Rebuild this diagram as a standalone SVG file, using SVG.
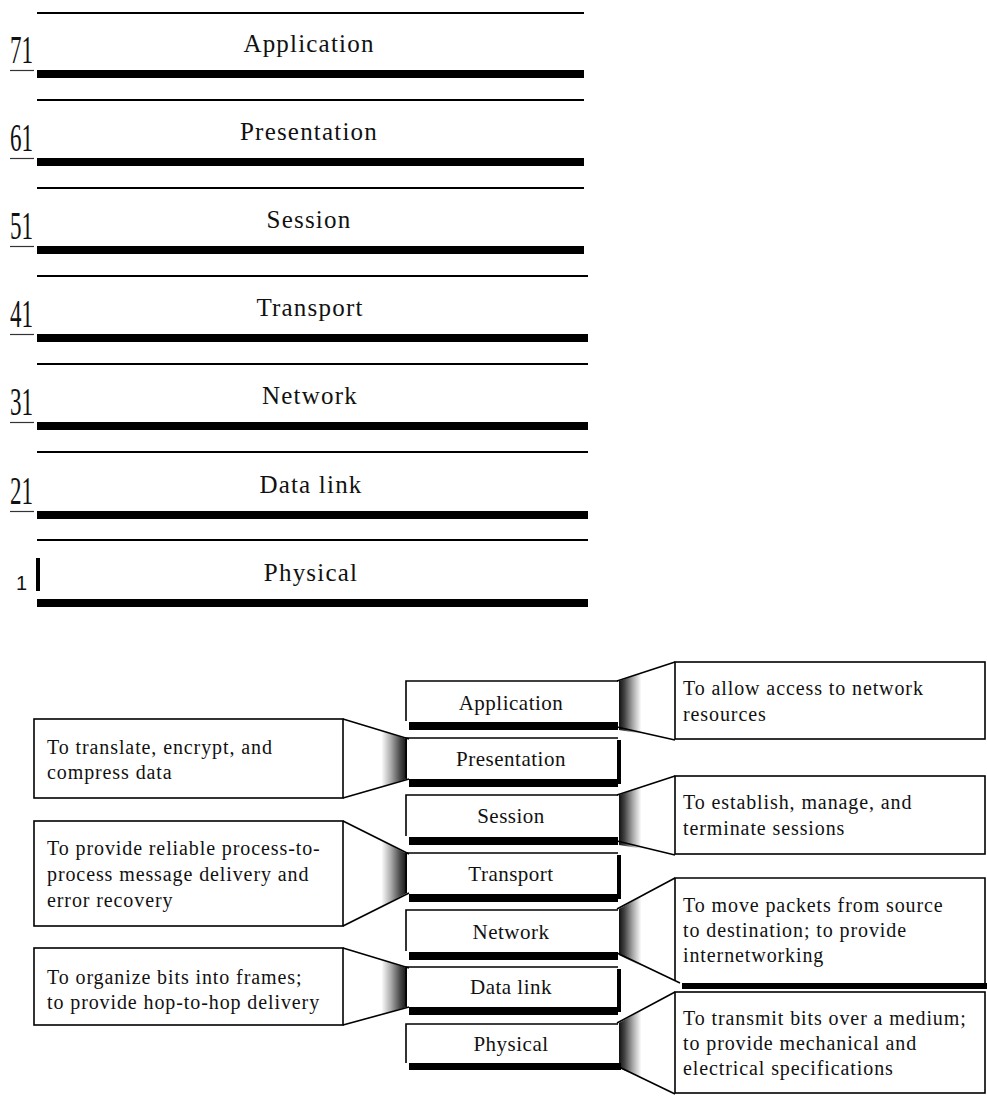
<svg xmlns="http://www.w3.org/2000/svg" width="987" height="1099" viewBox="0 0 987 1099">
<style>
.thin{stroke:#000;stroke-width:1.6;fill:none}
.hair{stroke:#333;stroke-width:1.2;fill:none}
.bar{fill:#000}
.lbl{font-family:"Liberation Serif","Times New Roman",serif;font-size:25px;letter-spacing:1.2px;text-anchor:middle;fill:#111}
.num{font-family:"Liberation Serif","Times New Roman",serif;font-size:40px;fill:#111}
.lay{font-family:"Liberation Serif","Times New Roman",serif;font-size:21px;letter-spacing:0.5px;text-anchor:middle;fill:#111}
.desc{font-family:"Liberation Serif","Times New Roman",serif;font-size:20px;letter-spacing:0.9px;fill:#111}
.box{fill:#fff;stroke:#000;stroke-width:1.6}
</style>
<defs>
<linearGradient id="gR" x1="0" y1="0" x2="1" y2="0">
<stop offset="0" stop-color="#111"/>
<stop offset="0.1" stop-color="#444"/>
<stop offset="0.25" stop-color="#aaa"/>
<stop offset="0.4" stop-color="#fff"/>
<stop offset="1" stop-color="#fff"/>
</linearGradient>
<linearGradient id="gL" x1="1" y1="0" x2="0" y2="0">
<stop offset="0" stop-color="#111"/>
<stop offset="0.1" stop-color="#444"/>
<stop offset="0.25" stop-color="#aaa"/>
<stop offset="0.4" stop-color="#fff"/>
<stop offset="1" stop-color="#fff"/>
</linearGradient>
</defs>
<rect x="0" y="0" width="987" height="1099" fill="#fff"/>

<!-- Top stack -->
<g id="top-application">
<rect class="bar" x="37" y="12" width="547" height="2"/>
<text class="lbl" x="309" y="52">Application</text>
<rect class="bar" x="37" y="70" width="547" height="8"/>
<text class="num" x="10" y="63" textLength="23" lengthAdjust="spacingAndGlyphs">71</text>
<line class="hair" x1="10" y1="70.5" x2="34" y2="70.5"/>
</g>
<g id="top-presentation">
<rect class="bar" x="37" y="99" width="547" height="2"/>
<text class="lbl" x="309" y="140">Presentation</text>
<rect class="bar" x="37" y="158" width="547" height="8"/>
<text class="num" x="10" y="151" textLength="23" lengthAdjust="spacingAndGlyphs">61</text>
<line class="hair" x1="10" y1="158.5" x2="34" y2="158.5"/>
</g>
<g id="top-session">
<rect class="bar" x="37" y="187" width="547" height="2"/>
<text class="lbl" x="309" y="228">Session</text>
<rect class="bar" x="37" y="246" width="547" height="8"/>
<text class="num" x="10" y="239" textLength="23" lengthAdjust="spacingAndGlyphs">51</text>
<line class="hair" x1="10" y1="246.5" x2="34" y2="246.5"/>
</g>
<g id="top-transport">
<rect class="bar" x="37" y="275" width="551" height="2"/>
<text class="lbl" x="310" y="316">Transport</text>
<rect class="bar" x="37" y="334" width="551" height="8"/>
<text class="num" x="10" y="327" textLength="23" lengthAdjust="spacingAndGlyphs">41</text>
<line class="hair" x1="10" y1="334.5" x2="34" y2="334.5"/>
</g>
<g id="top-network">
<rect class="bar" x="37" y="363" width="551" height="2"/>
<text class="lbl" x="310" y="404">Network</text>
<rect class="bar" x="37" y="422" width="551" height="8"/>
<text class="num" x="10" y="415" textLength="23" lengthAdjust="spacingAndGlyphs">31</text>
<line class="hair" x1="10" y1="422.5" x2="34" y2="422.5"/>
</g>
<g id="top-datalink">
<rect class="bar" x="37" y="451" width="551" height="2"/>
<text class="lbl" x="311" y="493">Data link</text>
<rect class="bar" x="37" y="511" width="551" height="8"/>
<text class="num" x="10" y="504" textLength="23" lengthAdjust="spacingAndGlyphs">21</text>
<line class="hair" x1="10" y1="511.5" x2="34" y2="511.5"/>
</g>
<g id="top-physical">
<rect class="bar" x="37" y="539" width="551" height="2"/>
<text class="lbl" x="311" y="581">Physical</text>
<rect class="bar" x="37" y="599" width="551" height="8"/>
<text x="16" y="590" font-family="Liberation Sans, Arial, sans-serif" font-size="20" fill="#111">1</text>
<rect class="bar" x="36" y="558" width="4" height="33"/>
</g>

<!-- Connectors (funnels) -->
<g id="connectors">
<polygon points="619,681 675,662 675,739 619,730" fill="url(#gR)"/>
<polyline class="thin" points="617,681 675,662"/><polyline class="thin" points="617,727 675,740"/>
<polygon points="619,795 675,776 675,854 619,845" fill="url(#gR)"/>
<polyline class="thin" points="617,795 675,776"/><polyline class="thin" points="617,841 675,855"/>
<polygon points="619,909 675,878 675,983 619,955" fill="url(#gR)"/>
<polyline class="thin" points="617,909 675,878"/><polyline class="thin" points="617,953 680,983"/>
<polygon points="619,1023 675,992 675,1093 619,1068" fill="url(#gR)"/>
<polyline class="thin" points="617,1023 675,992"/><polyline class="thin" points="617,1066 675,1094"/>
<polygon points="343,719 407,739 407,779 343,798" fill="url(#gL)"/>
<polyline class="thin" points="343,719 409,739"/><polyline class="thin" points="343,798 409,779"/>
<polygon points="343,821 407,854 407,893 343,926" fill="url(#gL)"/>
<polyline class="thin" points="343,821 409,854"/><polyline class="thin" points="343,926 409,893"/>
<polygon points="343,948 407,968 407,1007 343,1025" fill="url(#gL)"/>
<polyline class="thin" points="343,948 409,968"/><polyline class="thin" points="343,1025 409,1007"/>
</g>

<!-- Layer boxes -->
<g id="layer-application">
<path class="thin" d="M406,721 V681 H618"/>
<rect class="bar" x="409" y="722" width="209" height="8"/>
<text class="lay" x="511" y="710">Application</text>
</g>
<g id="layer-presentation">
<path class="thin" d="M406,778 V738 H618"/>
<rect class="bar" x="409" y="779" width="209" height="8"/>
<rect class="bar" x="617" y="740" width="4" height="44"/>
<text class="lay" x="511" y="766">Presentation</text>
</g>
<g id="layer-session">
<path class="thin" d="M406,836 V795 H618"/>
<rect class="bar" x="409" y="837" width="209" height="8"/>
<text class="lay" x="511" y="823">Session</text>
</g>
<g id="layer-transport">
<path class="thin" d="M406,893 V853 H618"/>
<rect class="bar" x="409" y="894" width="209" height="8"/>
<rect class="bar" x="617" y="855" width="4" height="44"/>
<text class="lay" x="511" y="881">Transport</text>
</g>
<g id="layer-network">
<path class="thin" d="M406,951 V910 H618"/>
<rect class="bar" x="409" y="952" width="209" height="8"/>
<text class="lay" x="511" y="939">Network</text>
</g>
<g id="layer-datalink">
<path class="thin" d="M406,1006 V967 H618"/>
<rect class="bar" x="409" y="1007" width="209" height="8"/>
<rect class="bar" x="617" y="969" width="4" height="43"/>
<text class="lay" x="511" y="994">Data link</text>
</g>
<g id="layer-physical">
<path class="thin" d="M406,1063 V1024 H618"/>
<rect class="bar" x="409" y="1063" width="212" height="7"/>
<text class="lay" x="511" y="1051">Physical</text>
</g>

<!-- Description boxes -->
<g id="desc-application">
<rect class="box" x="675" y="662" width="310" height="77"/>
<text class="desc" x="683" y="695">To allow access to network</text>
<text class="desc" x="683" y="721">resources</text>
</g>
<g id="desc-session">
<rect class="box" x="675" y="776" width="310" height="78"/>
<text class="desc" x="683" y="809">To establish, manage, and</text>
<text class="desc" x="683" y="835">terminate sessions</text>
</g>
<g id="desc-network">
<path class="thin" d="M675,980 V878 H985 V983"/>
<rect class="bar" x="682" y="983" width="305" height="6"/>
<text class="desc" x="683" y="912">To move packets from source</text>
<text class="desc" x="683" y="937">to destination; to provide</text>
<text class="desc" x="683" y="962">internetworking</text>
</g>
<g id="desc-physical">
<rect class="box" x="675" y="992" width="310" height="101"/>
<text class="desc" x="683" y="1025">To transmit bits over a medium;</text>
<text class="desc" x="683" y="1050">to provide mechanical and</text>
<text class="desc" x="683" y="1075">electrical specifications</text>
</g>
<g id="desc-presentation">
<rect class="box" x="34" y="719" width="309" height="79"/>
<text class="desc" x="47" y="754">To translate, encrypt, and</text>
<text class="desc" x="47" y="779">compress data</text>
</g>
<g id="desc-transport">
<rect class="box" x="34" y="821" width="309" height="105"/>
<text class="desc" x="47" y="855">To provide reliable process-to-</text>
<text class="desc" x="47" y="881">process message delivery and</text>
<text class="desc" x="47" y="907">error recovery</text>
</g>
<g id="desc-datalink">
<rect class="box" x="34" y="948" width="309" height="77"/>
<text class="desc" x="47" y="984">To organize bits into frames;</text>
<text class="desc" x="47" y="1009">to provide hop-to-hop delivery</text>
</g>
</svg>
